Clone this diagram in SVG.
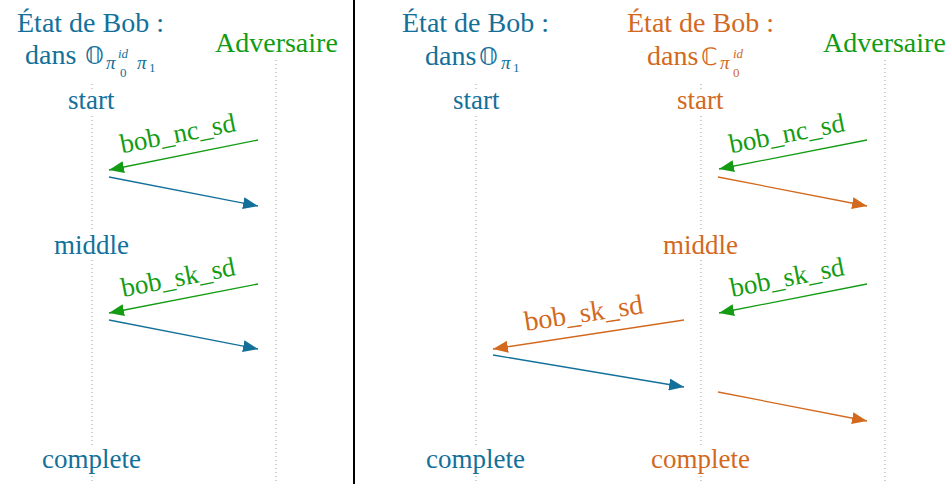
<svg xmlns="http://www.w3.org/2000/svg" width="951" height="484" viewBox="0 0 951 484">
<style>
.t{font-size:28px}
.lab{font-size:27px}
.ds{font-size:24px}
.pi{font-size:19px;font-style:italic}
.ss{font-size:13px}
.ssi{font-size:13px;font-style:italic}
.b{fill:#13709a}
.g{fill:#139c13}
.o{fill:#d2691e}
.life{stroke:#a0a0a0;stroke-width:1;stroke-dasharray:1 3;fill:none}
.bg{fill:#ffffff}
.ab{stroke:#13709a;stroke-width:1.3;fill:none;marker-end:url(#mb)}
.ag{stroke:#139c13;stroke-width:1.3;fill:none;marker-end:url(#mg)}
.ao{stroke:#d2691e;stroke-width:1.3;fill:none;marker-end:url(#mo)}
</style>
<defs>
<marker id="mb" markerUnits="userSpaceOnUse" markerWidth="16" markerHeight="12" refX="15" refY="6" orient="auto"><path d="M0,0 L15,6 L0,12 z" fill="#13709a"/></marker>
<marker id="mg" markerUnits="userSpaceOnUse" markerWidth="16" markerHeight="12" refX="15" refY="6" orient="auto"><path d="M0,0 L15,6 L0,12 z" fill="#139c13"/></marker>
<marker id="mo" markerUnits="userSpaceOnUse" markerWidth="16" markerHeight="12" refX="15" refY="6" orient="auto"><path d="M0,0 L15,6 L0,12 z" fill="#d2691e"/></marker>
</defs>
<rect width="951" height="484" fill="#ffffff"/>

<g id="lifelines">
<line class="life" x1="92" y1="84" x2="92" y2="484"/>
<line class="life" x1="276" y1="60" x2="276" y2="484"/>
<line class="life" x1="476" y1="84" x2="476" y2="484"/>
<line class="life" x1="701" y1="84" x2="701" y2="484"/>
<line class="life" x1="885" y1="60" x2="885" y2="484"/>
</g>

<line id="separator" x1="354" y1="0" x2="354" y2="484" stroke="#000" stroke-width="2"/>

<g id="left-bob-title">
<text font-family="Liberation Serif" class="t b" x="17" y="32">État de Bob :</text>
<text font-family="Liberation Serif" class="t b" x="25" y="64">dans</text>
<text font-family="DejaVu Sans" class="ds b" x="85" y="64">𝕆</text>
<text font-family="Liberation Serif" class="pi b" x="106" y="69">π</text>
<text font-family="Liberation Serif" class="ssi b" x="118" y="58">id</text>
<text font-family="Liberation Serif" class="ss b" x="120" y="77">0</text>
<text font-family="Liberation Serif" class="pi b" x="137" y="69">π</text>
<text font-family="Liberation Serif" class="ss b" x="149" y="72">1</text>
</g>
<g id="left-adv-title">
<text font-family="Liberation Serif" class="t g" x="215" y="52">Adversaire</text>
</g>

<g id="right-bob1-title">
<text font-family="Liberation Serif" class="t b" x="402" y="32">État de Bob :</text>
<text font-family="Liberation Serif" class="t b" x="425" y="65">dans</text>
<text font-family="DejaVu Sans" class="ds b" x="479" y="65">𝕆</text>
<text font-family="Liberation Serif" class="pi b" x="501" y="69">π</text>
<text font-family="Liberation Serif" class="ss b" x="513" y="72">1</text>
</g>
<g id="right-bob2-title">
<text font-family="Liberation Serif" class="t o" x="627" y="32">État de Bob :</text>
<text font-family="Liberation Serif" class="t o" x="647" y="65">dans</text>
<text font-family="DejaVu Sans" class="ds o" x="701" y="65">ℂ</text>
<text font-family="Liberation Serif" class="pi o" x="720" y="69">π</text>
<text font-family="Liberation Serif" class="ssi o" x="733" y="58">id</text>
<text font-family="Liberation Serif" class="ss o" x="733" y="77">0</text>
</g>
<g id="right-adv-title">
<text font-family="Liberation Serif" class="t g" x="823" y="52">Adversaire</text>
</g>

<g id="left-states">
<rect class="bg" x="62" y="89" width="60" height="25"/>
<text font-family="Liberation Serif" class="lab b" x="68" y="109">start</text>
<rect class="bg" x="50" y="232" width="83" height="27"/>
<text font-family="Liberation Serif" class="lab b" x="54" y="254">middle</text>
<rect class="bg" x="37" y="448" width="109" height="26"/>
<text font-family="Liberation Serif" class="lab b" x="42" y="468">complete</text>
</g>
<g id="right-bob1-states">
<rect class="bg" x="446" y="89" width="60" height="25"/>
<text font-family="Liberation Serif" class="lab b" x="453" y="109">start</text>
<rect class="bg" x="421" y="448" width="109" height="26"/>
<text font-family="Liberation Serif" class="lab b" x="426" y="468">complete</text>
</g>
<g id="right-bob2-states">
<rect class="bg" x="671" y="89" width="60" height="25"/>
<text font-family="Liberation Serif" class="lab o" x="677" y="109">start</text>
<rect class="bg" x="660" y="232" width="83" height="27"/>
<text font-family="Liberation Serif" class="lab o" x="663" y="254">middle</text>
<rect class="bg" x="646" y="448" width="109" height="26"/>
<text font-family="Liberation Serif" class="lab o" x="651" y="468">complete</text>
</g>

<g id="connectors">
<line class="ag" x1="258" y1="140" x2="109" y2="170"/>
<line class="ab" x1="109" y1="177" x2="258" y2="206"/>
<line class="ag" x1="258" y1="284" x2="109" y2="313"/>
<line class="ab" x1="109" y1="320" x2="258" y2="349"/>
<line class="ag" x1="867" y1="140" x2="719" y2="169"/>
<line class="ao" x1="718" y1="177" x2="867" y2="206"/>
<line class="ag" x1="867" y1="284" x2="719" y2="313"/>
<line class="ao" x1="684" y1="320" x2="493" y2="349"/>
<line class="ab" x1="493" y1="355" x2="684" y2="387"/>
<line class="ao" x1="718" y1="392" x2="867" y2="421"/>
<g transform="rotate(-11 180 142)"><text font-family="Liberation Serif" class="lab g" x="121" y="142">bob_nc_sd</text></g>
<g transform="rotate(-11 180 286)"><text font-family="Liberation Serif" class="lab g" x="122" y="286">bob_sk_sd</text></g>
<g transform="rotate(-11 789 142)"><text font-family="Liberation Serif" class="lab g" x="730" y="142">bob_nc_sd</text></g>
<g transform="rotate(-11 789 286)"><text font-family="Liberation Serif" class="lab g" x="731" y="286">bob_sk_sd</text></g>
<g transform="rotate(-8.6 585 322)"><text font-family="Liberation Serif" class="t o" x="525" y="322">bob_sk_sd</text></g>
</g>
</svg>
